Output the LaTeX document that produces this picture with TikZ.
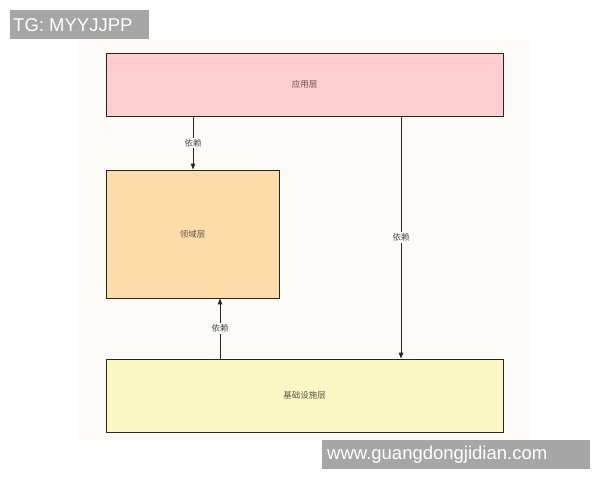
\documentclass[tikz,border=0pt]{standalone}
\usepackage{fontspec}
\setmainfont{Liberation Sans}
\newfontfamily\cjk{Noto Sans CJK SC}
\usetikzlibrary{arrows.meta}
\definecolor{apppink}{HTML}{FFCCD0}
\definecolor{domorange}{HTML}{FDDCA8}
\definecolor{infyellow}{HTML}{FAF7C4}
\definecolor{wmgray}{HTML}{A6A6A6}
\definecolor{txtgray}{HTML}{4A4A4A}
\definecolor{bgoff}{HTML}{FCFBF8}
\tikzset{
  x=1pt, y=-1pt,
  layer/.style={draw=black!85, line width=0.9pt, inner sep=0pt, font=\cjk\fontsize{8.5}{10}\selectfont, text=txtgray!85!brown},
  dep/.style={draw=black!85, line width=0.9pt, -{Triangle[length=6pt,width=4.5pt]}},
  deplabel/.style={fill=bgoff, inner sep=1.5pt, font=\cjk\fontsize{8.5}{10}\selectfont, text=txtgray},
  wm/.style={fill=wmgray, inner sep=0pt},
  wmtext/.style={anchor=west, text=white, inner sep=0pt, font=\fontsize{18.5}{20}\selectfont}
}
\begin{document}
\begin{tikzpicture}
\useasboundingbox (0,0) rectangle (600,480);
\fill[white] (0,0) rectangle (600,480);
\fill[bgoff] (78,40) rectangle (530,440);
\node[layer, fill=apppink, minimum width=397pt, minimum height=63pt] (app) at (304.5,84.5) {应用层};
\node[layer, fill=domorange, minimum width=173pt, minimum height=128pt] (dom) at (192.5,234) {领域层};
\node[layer, fill=infyellow, minimum width=397pt, minimum height=73pt] (inf) at (304.5,395.5) {基础设施层};
\draw[dep] (app.south -| 193,0) -- node[deplabel, pos=0.5] (l1) {依赖} (dom.north -| 193,0);
\draw[dep] (inf.north -| 220,0) -- node[deplabel, pos=0.5] (l2) {依赖} (dom.south -| 220,0);
\draw[dep] (app.south -| 401,0) -- node[deplabel, pos=0.5] (l3) {依赖} (inf.north -| 401,0);
\node[wm, minimum width=139pt, minimum height=29pt] (wm1) at (79.5,24.5) {};
\node[wmtext] (wm1t) at (13,25) {TG: MYYJJPP};
\node[wm, minimum width=268pt, minimum height=29pt] (wm2) at (456,454.5) {};
\node[wmtext] (wm2t) at (327,455) {www.guangdongjidian.com};
\end{tikzpicture}
\end{document}
